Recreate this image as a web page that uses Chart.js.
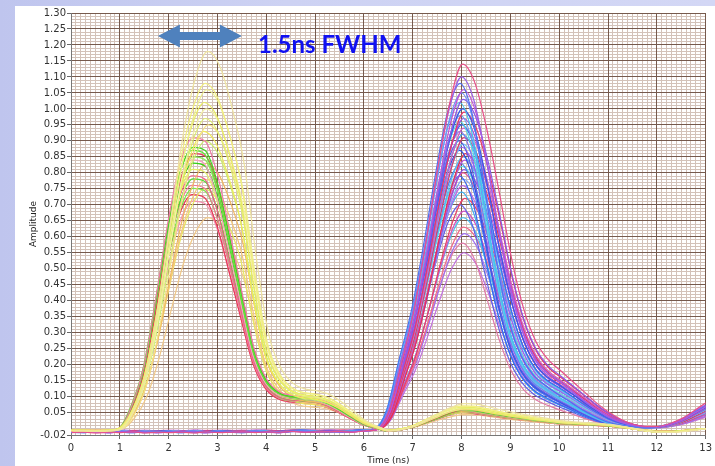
<!DOCTYPE html>
<html>
<head>
<meta charset="utf-8">
<script src="https://cdn.jsdelivr.net/npm/chart.js@4.4.1/dist/chart.umd.min.js"></script>
<style>
  html, body { margin: 0; padding: 0; }
  body {
    width: 715px; height: 466px; overflow: hidden; position: relative;
    background: linear-gradient(to right, #bfc5ee 0%, #cdd2f3 40%, #d3d7f5 100%);
  }
  #panel { position: absolute; left: 15px; top: 6px; width: 700px; height: 460px; background: #ffffff; }
  canvas { display: block; }
</style>
</head>
<body>
<div id="panel"><canvas id="scope" width="700" height="460"></canvas></div>
<script>
// sample times (ns)
const timeNs = [0, 0.25, 0.5, 0.75, 1, 1.25, 1.5, 1.75, 2, 2.25, 2.5, 2.75, 3, 3.25, 3.5, 3.75,
  4, 4.25, 4.5, 4.75, 5, 5.25, 5.5, 5.75, 6, 6.25, 6.5, 6.75, 7, 7.25, 7.5, 7.75,
  8, 8.25, 8.5, 8.75, 9, 9.25, 9.5, 9.75, 10, 10.25, 10.5, 10.75, 11, 11.25, 11.5, 11.75,
  12, 12.25, 12.5, 12.75, 13];

// first pulse: a mid trace (peak 0.88) and a broad yellow trace (peak 1.00)
const shapeA = [-0.008, -0.008, -0.009, -0.008, 0.0, 0.07, 0.19, 0.40, 0.63, 0.80, 0.87, 0.86, 0.76, 0.59, 0.41, 0.24,
  0.15, 0.112, 0.10, 0.096, 0.092, 0.08, 0.06, 0.036, 0.014, 0.002, -0.008, -0.004, 0.005, 0.02, 0.035, 0.05,
  0.06, 0.057, 0.05, 0.044, 0.038, 0.033, 0.028, 0.023, 0.018, 0.016, 0.014, 0.012, 0.01, 0.005, 0.0, -0.006,
  -0.01, -0.01, -0.008, -0.004, 0.0];
const shapeAWide = [-0.006, -0.006, -0.007, -0.006, 0.0, 0.05, 0.15, 0.33, 0.56, 0.78, 0.93, 1.0, 0.96, 0.85, 0.70, 0.45,
  0.25, 0.16, 0.12, 0.105, 0.10, 0.09, 0.07, 0.045, 0.02, 0.005, -0.006, -0.002, 0.008, 0.025, 0.042, 0.057,
  0.066, 0.065, 0.058, 0.05, 0.043, 0.037, 0.031, 0.026, 0.021, 0.018, 0.016, 0.014, 0.011, 0.006, 0.0, -0.006,
  -0.01, -0.01, -0.008, -0.004, 0.0];
const shapesA = [shapeA, shapeAWide];
const peaksA = [0.88, 1.0];

// second pulse (peak 1.00): narrow, mid and broad falling edges
const shapeBNarrow = [-0.010, -0.012, -0.009, -0.011, -0.010, -0.012, -0.010, -0.011, -0.009, -0.012, -0.010, -0.011, -0.009, -0.010, -0.012, -0.010,
  -0.008, -0.011, -0.009, -0.007, -0.008, -0.010, -0.009, -0.008, -0.006, -0.002, 0.055, 0.20, 0.34, 0.53, 0.74, 0.92,
  1.0, 0.91, 0.70, 0.48, 0.31, 0.21, 0.155, 0.125, 0.10, 0.078, 0.055, 0.036, 0.02, 0.011, 0.006, 0.004,
  0.005, 0.012, 0.025, 0.045, 0.065];
const shapeBMid = [-0.010, -0.011, -0.010, -0.012, -0.009, -0.011, -0.010, -0.012, -0.010, -0.011, -0.009, -0.012, -0.010, -0.011, -0.010, -0.009,
  -0.010, -0.012, -0.008, -0.009, -0.010, -0.008, -0.010, -0.009, -0.007, -0.002, 0.05, 0.19, 0.33, 0.52, 0.73, 0.91,
  1.0, 0.935, 0.77, 0.57, 0.40, 0.275, 0.20, 0.16, 0.135, 0.108, 0.08, 0.055, 0.033, 0.018, 0.009, 0.005,
  0.005, 0.012, 0.026, 0.047, 0.068];
const shapeBWide = [-0.011, -0.010, -0.012, -0.010, -0.011, -0.009, -0.012, -0.010, -0.011, -0.010, -0.012, -0.009, -0.011, -0.010, -0.009, -0.011,
  -0.009, -0.010, -0.008, -0.010, -0.009, -0.009, -0.008, -0.010, -0.006, -0.002, 0.05, 0.18, 0.32, 0.51, 0.72, 0.90,
  1.0, 0.95, 0.82, 0.65, 0.47, 0.33, 0.24, 0.19, 0.16, 0.13, 0.10, 0.07, 0.045, 0.025, 0.012, 0.006,
  0.006, 0.014, 0.028, 0.05, 0.072];
const shapesB = [shapeBNarrow, shapeBMid, shapeBWide];

// per-trace peak amplitude, shape, time offset and colour
const ampA = [1.18, 1.08, 1.06, 1.02, 1.00, 0.97, 0.95, 0.93, 0.92, 0.90, 0.89, 0.88, 0.87, 0.86, 0.85, 0.84,
  0.83, 0.82, 0.80, 0.79, 0.78, 0.77, 0.76, 0.75, 0.74, 0.72, 0.66];
const formA = [1, 1, 1, 1, 1, 1, 1, 1, 0, 1, 0, 0, 0, 0, 0, 0, 1, 0, 0, 0, 1, 0, 0, 1, 0, 0, 1];
const shiftA = [0.05, 0.00, 0.03, -0.02, 0.02, 0.00, 0.06, -0.03, 0.00, 0.00, 0.00, -0.02, 0.02, 0.00, -0.03, 0.00,
  0.02, 0.00, -0.02, 0.00, 0.00, -0.02, 0.00, -0.02, -0.02, 0.00, 0.05];
const colorA = ['#eee3a0', '#f2ee80', '#eef090', '#e8ec60', '#f4f2a8', '#e0f070', '#f5e288', '#f0ec58', '#f07aa8', '#ccee70',
  '#3fd820', '#62e23a', '#e8405a', '#8be85a', '#f2a0c0', '#36d018', '#f0b860', '#e2f06a', '#ee5c8a', '#50dc30',
  '#f5c878', '#f07898', '#7ae84a', '#e8e860', '#e83858', '#f290b0', '#f0c888'];

const ampB = [1.14, 1.10, 1.08, 1.06, 1.05, 1.03, 1.02, 1.00, 0.99, 0.98, 0.97, 0.96, 0.95, 0.94, 0.93, 0.92,
  0.91, 0.90, 0.89, 0.88, 0.87, 0.86, 0.85, 0.84, 0.83, 0.82, 0.81, 0.80, 0.79, 0.78, 0.76, 0.74,
  0.72, 0.70, 0.68, 0.66, 0.63, 0.61, 0.58, 0.55];
const formB = [2, 1, 0, 1, 0, 2, 0, 1, 2, 0, 1, 0, 1, 2, 0, 1, 2, 0, 1, 1, 0, 2, 1, 2, 0, 1, 2, 1, 0, 1, 1, 0,
  2, 0, 1, 1, 2, 1, 0, 1];
const shiftB = [0.02, 0.00, -0.03, 0.04, 0.00, 0.03, -0.04, 0.02, 0.05, -0.02, 0.04, -0.03, 0.00, 0.04, -0.03, 0.02,
  0.05, -0.05, 0.03, 0.00, -0.04, 0.08, 0.03, 0.06, -0.02, 0.01, 0.05, 0.03, -0.04, 0.04, 0.02, 0.00,
  0.07, -0.03, 0.05, 0.03, 0.04, 0.06, 0.02, 0.05];
const colorB = ['#e8508a', '#9a60e8', '#5070f0', '#c050d8', '#7090f8', '#8a5ae8', '#40c8f0', '#3858e8', '#e83868', '#6aa0f5',
  '#a050e0', '#50d8e8', '#4466ee', '#d060c8', '#8070f0', '#3aa8f0', '#d84070', '#5a5ae8', '#70c8f5', '#a060f0',
  '#2e50e0', '#e83050', '#58b8f0', '#b858d8', '#4a7af0', '#60e0e8', '#9050e0', '#e85898', '#3868f0', '#80a8f8',
  '#b868e8', '#40b0f0', '#e8406a', '#6060e8', '#d050c0', '#50c0f0', '#f06a8a', '#a070f0', '#e07aa8', '#c070e0'];

// axis ticks
const xTicks = [0, 1, 2, 3, 4, 5, 6, 7, 8, 9, 10, 11, 12, 13];
const yTicks = [-0.02, 0.05, 0.10, 0.15, 0.20, 0.25, 0.30, 0.35, 0.40, 0.45, 0.50, 0.55, 0.60, 0.65, 0.70,
  0.75, 0.80, 0.85, 0.90, 0.95, 1.00, 1.05, 1.10, 1.15, 1.20, 1.25, 1.30];

const makeTrace = (shape, peak, amp, shift, color) => ({
  data: timeNs.map((t, i) => ({ x: t + shift, y: shape[i] * amp / peak })),
  borderColor: color,
  borderWidth: 1.2,
  pointRadius: 0,
  cubicInterpolationMode: 'monotone',
  fill: false
});

const datasets = [];
ampA.forEach((a, i) => datasets.push(makeTrace(shapesA[formA[i]], peaksA[formA[i]], a, shiftA[i], colorA[i])));
ampB.forEach((a, i) => datasets.push(makeTrace(shapesB[formB[i]], 1.0, a, shiftB[i], colorB[i])));

// blue double arrow + FWHM label
const fwhmNote = {
  id: 'fwhmNote',
  afterDraw(chart) {
    const { ctx, scales: { x, y } } = chart;
    const x0 = x.getPixelForValue(1.78), x1 = x.getPixelForValue(3.5);
    const yc = y.getPixelForValue(1.228);
    const head = 22, half = 11.5, shaft = 4;
    ctx.save();
    ctx.fillStyle = '#4f81bd';
    ctx.beginPath();
    ctx.moveTo(x0, yc);
    ctx.lineTo(x0 + head, yc - half);
    ctx.lineTo(x0 + head, yc - shaft);
    ctx.lineTo(x1 - head, yc - shaft);
    ctx.lineTo(x1 - head, yc - half);
    ctx.lineTo(x1, yc);
    ctx.lineTo(x1 - head, yc + half);
    ctx.lineTo(x1 - head, yc + shaft);
    ctx.lineTo(x0 + head, yc + shaft);
    ctx.lineTo(x0 + head, yc + half);
    ctx.closePath();
    ctx.fill();
    ctx.font = 'bold 24px Lato';
    ctx.fillStyle = '#1010f0';
    ctx.textBaseline = 'alphabetic';
    ctx.fillText('1.5ns FWHM', x.getPixelForValue(3.83), y.getPixelForValue(1.175));
    ctx.restore();
  }
};

const tickFont = { family: 'DejaVu Sans', size: 10 };
const majorGrid = '#765a4d';
const minorGrid = '#d3c2b9';

new Chart(document.getElementById('scope'), {
  type: 'line',
  data: { datasets },
  plugins: [fwhmNote],
  options: {
    responsive: false,
    animation: false,
    events: [],
    layout: { padding: { left: 0, right: 9, top: 7, bottom: 0 } },
    plugins: { legend: { display: false }, tooltip: { enabled: false } },
    scales: {
      x: {
        type: 'linear', min: 0, max: 13,
        afterBuildTicks: s => { s.ticks = xTicks.map(v => ({ value: v })); },
        afterFit: s => { s.height = 31; },
        ticks: { font: tickFont, color: '#333', padding: 3, maxRotation: 0, autoSkip: false },
        grid: { color: majorGrid, lineWidth: 1, tickLength: 4, tickColor: '#666' },
        border: { color: '#777' },
        title: { display: true, text: 'Time (ns)', font: { family: 'DejaVu Sans', size: 9 }, color: '#222', padding: { top: 0, bottom: 0 } }
      },
      y: {
        type: 'linear', min: -0.02, max: 1.30,
        afterBuildTicks: s => { s.ticks = yTicks.map(v => ({ value: v })); },
        afterFit: s => { s.width = 56; },
        ticks: { font: tickFont, color: '#333', padding: 1, autoSkip: false, callback: v => v.toFixed(2) },
        grid: { color: majorGrid, lineWidth: 1, tickLength: 4, tickColor: '#666' },
        border: { color: '#777' },
        title: { display: true, text: 'Amplitude', font: { family: 'DejaVu Sans', size: 9 }, color: '#222', padding: { top: 13, bottom: 0 } }
      },
      // fine grid, 0.1 ns by 0.01
      xMinor: {
        type: 'linear', position: 'top', min: 0, max: 13,
        afterFit: s => { s.height = 0; },
        ticks: { display: false, stepSize: 0.1, autoSkip: false, maxTicksLimit: 200 },
        grid: { color: minorGrid, lineWidth: 1, drawTicks: false, z: -2 },
        border: { display: false }
      },
      yMinor: {
        type: 'linear', position: 'right', min: -0.02, max: 1.30,
        afterFit: s => { s.width = 0; },
        ticks: { display: false, stepSize: 0.01, autoSkip: false, maxTicksLimit: 200 },
        grid: { color: minorGrid, lineWidth: 1, drawTicks: false, z: -2 },
        border: { display: false }
      }
    }
  }
});
</script>
</body>
</html>
